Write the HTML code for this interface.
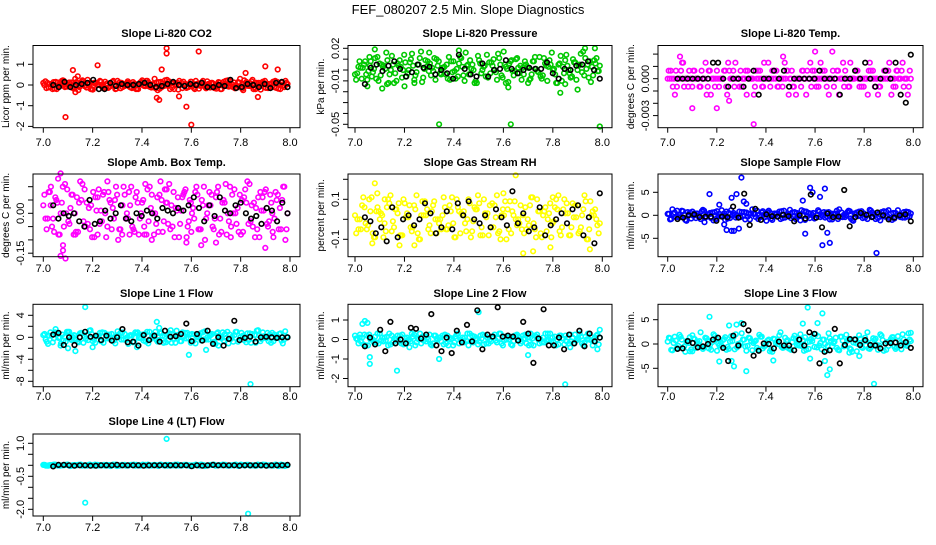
<!DOCTYPE html>
<html><head><meta charset="utf-8"><style>
body{margin:0;background:#fff;}
svg text{font-family:"Liberation Sans",Arial,sans-serif;fill:#000;}
</style></head><body>
<svg id="c" width="936" height="540" xmlns="http://www.w3.org/2000/svg">
<text x="468" y="14" font-size="13" text-anchor="middle">FEF_080207  2.5 Min. Slope Diagnostics</text>
</svg>
<script>
// ---- data (y values; band & black series evenly spaced over time 7.0-7.99) ----
const co2Band=[0.1,-0.15,0.05,-0.2,0.15,-0.05,0.2,-0.1,0.0,0.12,-0.18,0.08,-0.02,0.18,-0.12,0.04,-0.22,0.1,0.02,-0.08,0.16,-0.14,0.06,-0.04,0.2,-0.16,0.0,0.1,-0.1,0.14,-0.2,0.05,0.22,-0.06,0.12,-0.12,0.3,-0.25,0.15,-0.05,0.25,-0.2,0.1,0.0,0.2,-0.15,0.05,-0.1,0.15,-0.2,0.0,0.1,-0.05,0.18,-0.12,0.06,-0.18,0.12,-0.02,0.2,-0.08,0.04,-0.16,0.14,-0.1,0.22,-0.04,0.08,-0.2,0.1,0.0,0.16,-0.14,0.06,-0.06,0.2,-0.18,0.12,-0.1,0.05];
const co2OutX=[7.09,7.12,7.14,7.22,7.5,7.5,7.48,7.46,7.47,7.58,7.63,7.6,7.82,7.9,7.95,7.87,7.13,7.55];
const co2OutY=[-1.55,0.72,0.42,0.95,1.78,1.52,0.75,-0.62,-0.72,-1.05,1.62,-1.92,0.58,0.9,0.75,-0.58,-0.35,-0.55];
const co2Black=[0.0,-0.1,0.15,-0.1,0.0,0.05,0.1,0.25,-0.2,-0.2,0.1,-0.05,0.05,0.0,0.0,0.05,0.1,0.0,-0.1,-0.05,0.05,0.15,0.0,-0.05,0.05,0.0,0.1,-0.1,-0.1,0.0,-0.05,0.25,-0.15,-0.1,0.05,0.0,-0.1,0.05,-0.15,0.1,0.15,-0.1];
const presBand=[-0.004,0.003,-0.008,0.008,-0.001,-0.006,0.011,-0.01,0.005,0.001,-0.012,0.013,-0.003,0.004,-0.007,0.007,0.0,0.015,-0.005,0.005,-0.011,0.009,-0.001,0.002,-0.009,0.008,0.002,-0.004,0.012,-0.002,-0.008,0.006,0.003,0.016,-0.004,0.005,-0.01,0.009,0.0,-0.006,0.007,0.004,-0.002,0.011,-0.007,0.003,0.006,-0.001,0.01,-0.003,0.002,0.005,-0.009,0.008,0.001,0.012,-0.005,0.004,0.009,0.0,-0.012,0.006,0.003,0.014,-0.003,0.01,-0.009,0.005,0.017,0.001,0.008,-0.005,0.011,0.004];
const presOutX=[7.05,7.08,7.11,7.13,7.2,7.3,7.34,7.42,7.61,7.62,7.63,7.7,7.83,7.85,7.9,7.93,7.97,7.99,7.06,7.24];
const presOutY=[-0.015,0.019,-0.017,-0.013,-0.015,0.016,-0.05,0.018,-0.012,-0.016,-0.05,-0.012,-0.021,-0.013,-0.018,0.02,0.02,-0.052,0.004,-0.012];
const presBlack=[-0.013,0.002,0.005,-0.001,0.004,0.008,0.001,-0.006,-0.002,0.005,0.002,0.003,-0.004,0.0,-0.003,-0.008,0.014,0.001,-0.004,-0.006,0.006,-0.006,0.0,0.001,0.009,0.001,-0.003,0.0,0.002,0.001,0.001,0.007,-0.003,-0.008,0.001,0.0,0.004,0.005,0.008,0.0,-0.008];
const L=0.00065;
const tempBand=[0,L,0,-L,0,2*L,0,L,-L,0,0,L,0,-L,-2*L,0,L,0,0,-L,L,0,2*L,0,-L,0,L,0,-2*L,0,L,-L,0,0,L,0,-L,0,2*L,L,0,-L,0,0,L,-2*L,0,L,0,-L,0,L,0,0,-L,L,0,2*L,0,-L,0,L,0,-L,0,-2*L,L,0,0,-L,0,L,2*L,0,-L,0,L,0,-2*L,0];
const tempOutX=[7.35,7.6,7.67,7.1,7.2,7.05,7.47,7.25];
const tempOutY=[-0.0037,0.0022,0.0022,-0.0024,-0.0024,0.0018,0.0018,-0.0018];
const tempBlack=[0,0,0,0,0,0,0,2*L,2*L,0,-L,0,0,-L,0,L,-2*L,0,0,L,0,L,-L,0,0,0,0,0,L,0,0,0,-2*L,0,0,L,0,2*L,0,-L,0,L,0,2*L,-2*L,-3*L,3*L];
const ambBand=[0.03,-0.06,0.08,-0.02,0.05,-0.08,0.1,0.0,-0.04,0.07,-0.07,0.04,0.11,-0.05,0.02,-0.09,0.06,0.09,-0.03,0.0,0.08,-0.06,0.05,-0.1,0.03,0.07,-0.02,0.1,-0.07,0.04,0.0,-0.05,0.09,0.02,-0.08,0.06,0.12,-0.03,0.04,-0.06,0.08,0.01,-0.04,0.07,-0.09,0.05,0.02,0.1,-0.06,0.03,-0.02,0.08,-0.05,0.06,-0.08,0.04,0.11,-0.03,0.07,0.0,-0.07,0.05,0.09,-0.04,0.03,-0.09,0.06,0.01,0.08,-0.05,0.04,-0.02,0.07,-0.06,0.1,0.0];
const ambOutX=[7.06,7.07,7.08,7.09,7.07,7.08,7.13,7.22,7.26,7.32,7.35,7.41,7.44,7.58,7.6,7.64,7.7,7.76,7.9,7.93,7.5,7.03];
const ambOutY=[0.13,0.15,-0.12,-0.17,-0.16,-0.14,-0.08,-0.08,0.12,-0.08,-0.08,-0.08,-0.1,-0.11,-0.07,-0.12,-0.11,-0.09,-0.13,-0.07,0.09,0.03];
const ambBlack=[0.03,-0.02,0.0,-0.01,0.0,-0.03,-0.05,0.05,-0.04,-0.03,0.01,-0.02,0.0,0.03,-0.02,-0.03,0.0,-0.01,0.01,0.0,-0.02,0.02,0.01,0.0,0.02,0.01,0.03,0.06,0.02,-0.03,0.03,-0.01,0.06,0.01,0.0,0.03,0.04,0.0,-0.02,-0.01,-0.04,0.02,0.01,-0.03,0.04,0.0];
const rhBand=[0.02,-0.05,0.07,-0.02,0.1,-0.07,0.04,0.0,-0.09,0.06,0.12,-0.04,0.03,-0.08,0.08,0.01,-0.06,0.05,-0.1,0.09,0.02,-0.03,0.07,-0.07,0.0,0.11,-0.05,0.04,-0.09,0.06,0.03,-0.02,0.1,-0.06,0.05,0.08,-0.08,0.01,0.07,-0.04,0.12,-0.1,0.02,0.05,-0.07,0.09,0.0,-0.05,0.06,-0.03,0.11,-0.09,0.04,0.02,-0.06,0.08,-0.01,0.05,-0.08,0.1,0.03,-0.04,0.07,-0.07,0.02,0.09,-0.05,0.04,0.0,-0.02];
const rhOutX=[7.08,7.09,7.07,7.18,7.24,7.65,7.68,7.72,7.79,7.8,7.95,7.6,7.12];
const rhOutY=[0.18,0.13,-0.12,-0.13,-0.13,0.22,-0.17,-0.16,-0.14,0.11,-0.15,0.13,0.1];
const rhBlack=[0.01,-0.01,-0.07,-0.04,-0.11,0.06,-0.09,0.0,0.02,-0.03,0.0,0.08,0.03,-0.07,-0.04,0.04,-0.05,0.08,0.02,0.09,0.0,-0.02,0.02,-0.04,0.05,0.01,-0.03,0.14,-0.02,0.03,-0.06,-0.04,0.06,-0.08,-0.03,0.0,0.03,-0.02,0.05,0.07,-0.08,0.01,-0.12,0.13];
const sfBand=[0.3,-0.8,0.6,-0.4,1.0,-1.0,0.2,0.8,-0.6,0.0,1.2,-0.3,0.5,-1.1,0.9,-0.2,0.4,-0.7,1.1,0.1,-0.5,0.7,-0.9,0.3,1.3,-0.4,0.0,0.9,-1.2,0.6,-0.1,0.4,-0.8,1.0,0.2,-0.6,0.7,-0.3,1.1,-1.0,0.5,0.0,-0.5,0.8,-0.2,0.6,-0.9,0.3,1.0,-0.4,0.1,0.7,-0.7,0.4,-0.2,0.9,-0.5,0.2,0.6,-0.8,0.3,-0.1,0.8,-0.6,0.5,0.0,-0.4,0.7,-0.3,0.4];
const sfOutX=[7.17,7.23,7.24,7.26,7.26,7.28,7.3,7.31,7.29,7.32,7.15,7.58,7.59,7.56,7.55,7.64,7.65,7.66,7.63,7.62,7.85,7.21,7.27];
const sfOutY=[4.6,-2.0,-3.2,3.8,-3.4,4.6,8.2,3.0,-2.9,2.5,-1.5,6.0,5.0,-4.0,3.2,5.8,-3.8,-6.0,-6.5,4.0,-8.2,2.3,-3.4];
const sfBlack=[-0.8,-0.5,0.0,0.2,-0.4,-0.3,-0.3,-1.2,-0.3,-0.4,1.9,-0.5,4.7,-2.1,1.4,-1.0,0.2,-0.2,-0.3,0.1,-0.2,-1.3,0.0,-0.7,4.5,-0.5,-2.6,0.4,-0.4,-0.3,5.5,-2.4,-0.4,0.5,0.1,-0.4,0.6,0.0,-0.9,-0.5,0.0,0.2,-1.3];
const l1Band=[0.4,-0.8,0.9,-0.2,0.6,-1.1,0.1,1.0,-0.5,0.3,-0.9,0.7,-0.3,1.2,-0.7,0.2,0.8,-1.0,0.5,0.0,-0.6,1.1,-0.4,0.6,-1.2,0.3,0.9,-0.1,0.5,-0.8,1.0,0.0,-0.5,0.7,-1.0,0.4,1.3,-0.3,0.2,-0.7,0.8,-0.2,0.6,-1.1,0.1,0.9,-0.4,0.3,-0.9,0.7,0.0,-0.6,1.0,-0.3,0.4,-0.8,0.8,0.1,-0.5,0.6,-1.0,0.3,0.9,-0.2,0.5,-0.7,0.2,0.7,-0.4,0.0];
const l1OutX=[7.17,7.07,7.05,7.13,7.2,7.1,7.38,7.47,7.46,7.59,7.52,7.71,7.84,7.66];
const l1OutY=[5.5,-1.5,1.5,-2.5,-1.8,-2.0,-1.8,1.7,2.8,-3.2,-1.0,-1.5,-8.5,-2.3];
const l1Black=[0.5,0.8,-1.4,0.0,-1.4,0.0,1.0,0.1,0.3,-0.5,0.3,-0.6,0.0,1.5,-0.9,-0.8,-1.5,0.4,-0.5,0.3,-0.8,1.2,0.1,0.2,0.6,2.5,-0.7,0.6,-0.6,1.2,-1.2,0.0,-1.5,-0.3,3.0,-0.5,-0.1,0.1,-0.8,0.0,0.1,0.0,-0.1,0.0,0.0];
const l2Band=[0.2,-0.2,0.1,-0.3,0.25,0.0,-0.15,0.3,-0.1,0.15,-0.25,0.05,0.2,-0.2,0.1,-0.05,0.3,-0.3,0.0,0.15,-0.1,0.25,-0.2,0.05,0.1,-0.25,0.2,0.0,-0.15,0.3,-0.05,0.1,-0.3,0.2,0.05,-0.1,0.25,-0.2,0.0,0.15,-0.15,0.3,-0.05,0.1,-0.25,0.2,0.0,-0.1,0.25,-0.3,0.05,0.15,-0.2,0.1,-0.05,0.3,-0.15,0.0,0.2,-0.25,0.1,-0.1,0.25,0.05,-0.2,0.15,0.0,-0.3,0.2,0.1];
const l2OutX=[7.03,7.04,7.05,7.06,7.06,7.02,7.17,7.22,7.34,7.5,7.7,7.71,7.85,7.87,7.78,7.99,7.98];
const l2OutY=[0.8,0.95,0.85,-0.9,-1.25,0.25,-1.6,-0.4,-1.0,1.4,-0.8,0.3,-2.3,-0.4,0.0,0.5,-0.5];
const l2Black=[-0.35,0.1,-0.25,0.5,-0.6,0.9,-0.2,0.0,-0.2,0.6,0.55,0.05,0.25,1.3,-0.3,-0.6,0.1,-0.7,0.45,-0.15,0.75,-0.1,1.5,-0.5,0.25,0.15,1.65,0.15,0.2,0.15,-0.05,0.9,0.3,-1.2,0.05,1.55,-0.3,-0.3,0.1,-0.5,0.25,-0.2,0.45,-0.35,0.3,-0.1,0.1];
const l3Band=[0.5,-1.2,1.5,-0.4,0.9,-1.6,0.2,1.8,-0.8,0.6,-1.0,1.2,-0.2,2.0,-1.4,0.4,1.0,-0.6,1.6,-1.1,0.0,2.2,-0.5,1.3,-1.3,0.7,1.9,-0.9,0.3,-1.5,1.1,0.5,2.4,-0.7,0.8,-1.2,1.7,0.1,-0.4,1.4,-1.0,0.6,2.0,-0.3,0.9,-1.4,1.2,0.2,-0.8,1.5,-0.5,0.7,-1.1,1.0,0.0,-0.6,1.3,-0.9,0.4,1.1,-0.3,0.8,-1.2,0.5,1.4,-0.7,0.2,0.9,-0.4,0.6];
const l3OutX=[7.1,7.17,7.21,7.25,7.27,7.26,7.28,7.3,7.32,7.09,7.55,7.58,7.61,7.57,7.63,7.66,7.65,7.64,7.43,7.84,7.78,7.74,7.99];
const l3OutY=[-1.5,5.6,-3.6,3.8,-4.6,-3.5,4.0,4.3,-5.6,1.4,4.2,-3.0,4.3,7.5,6.3,-5.2,-6.4,-3.5,-3.4,-8.2,-2.5,-1.8,2.3];
const l3Black=[-1.0,-0.9,0.6,0.2,-0.7,-0.5,0.0,0.9,1.3,-0.8,-3.5,1.7,-0.3,4.1,2.8,-2.4,-1.4,0.1,0.0,-0.9,0.5,-0.3,-0.3,-1.3,0.9,-0.3,2.4,2.1,-4.0,-1.6,-1.3,3.1,-4.0,-0.2,1.0,0.9,-0.2,0.8,-0.2,-0.3,-0.9,0.1,0.2,0.3,-0.3,0.4,-0.8];
const l4Band=[0.02,-0.02,0.01,0.03,-0.01,0.0,0.02,-0.03,0.01,0.02,-0.02,0.0,0.03,-0.01,0.02,0.0,-0.02,0.01,0.03,-0.03,0.0,0.02,-0.01,0.01,0.02,-0.02,0.0,0.03,-0.01,0.01,0.02,0.0,-0.02,0.01,0.03,-0.01,0.0,0.02,-0.03,0.01,0.0,0.02,-0.02,0.01,0.03,-0.01,0.0,0.02,-0.02,0.01,0.0,0.03,-0.01,0.02,0.0,-0.02,0.01,0.02,-0.01,0.0,0.03,-0.02,0.01,0.0];
const l4OutX=[7.5,7.17,7.83,7.01,7.02];
const l4OutY=[1.2,-1.7,-2.2,0.0,-0.02];
const l4Black=[-0.05,0.02,0.02,0.0,-0.02,0.0,0.0,-0.02,-0.02,0.0,0.0,0.0,0.02,0.0,0.0,0.0,0.0,-0.02,0.0,0.0,0.0,0.0,0.0,0.0,0.0,0.0,-0.04,0.0,-0.02,0.0,0.02,0.0,0.0,0.0,0.0,-0.02,0.0,0.0,0.0,0.0,-0.02,0.0,0.0,0.0,0.02];
const xTickLabels=["7.0","7.2","7.4","7.6","7.8","8.0"];
const xTickValues=[7.0,7.2,7.4,7.6,7.8,8.0];

// ---- layout ----
const cols=[{x0:33,x1:300,t0:43.3,t1:290},{x0:348,x1:612,t0:355,t1:602.3},{x0:658,x1:923,t0:667.7,t1:913.3}];
const rows=[{y0:45.5,y1:127.7,title:37,xl:146},{y0:174,y1:256.7,title:166,xl:272},{y0:304.3,y1:386.7,title:297,xl:400},{y0:434,y1:516,title:425,xl:531}];
const NS='http://www.w3.org/2000/svg';
const svg=document.getElementById('c');
function mk(tag,attrs,parent){const e=document.createElementNS(NS,tag);for(const k in attrs)e.setAttribute(k,attrs[k]);(parent||svg).appendChild(e);return e;}

function panel(p){
  const c=cols[p.col], r=rows[p.row];
  const g=mk('g',{});
  
  
  const xs=v=>c.t0+(v-7.0)*(c.t1-c.t0);
  const ys=v=>p.p1+(v-p.v1)*(p.p2-p.p1)/(p.v2-p.v1);
  const t=mk('text',{x:(c.x0+c.x1)/2,y:r.title,'font-size':11,'font-weight':'bold','text-anchor':'middle'},g);
  t.textContent=p.title;
  
  
  const pts=mk('g',{fill:'none','stroke-width':1.6},g);
  
  
  function dot(x,y,col){
    const cy=ys(y); if(cy<r.y0-3||cy>r.y1+3) return;
    const e=mk('circle',{cx:xs(x).toFixed(1),cy:cy.toFixed(1),r:2.3,stroke:col},pts);
    
    
  }
  const n=p.band.length;
  const k1=Math.floor(n/3), k2=Math.floor(2*n/3);
  p.band.forEach((v,i)=>dot(7.0+0.99*i/(n-1),v,p.color));
  p.band.forEach((v,i)=>{if(i<n-1)dot(7.0+0.99*(i+0.33)/(n-1),p.band[(i+k1)%n],p.color);});
  p.band.forEach((v,i)=>{if(i<n-1)dot(7.0+0.99*(i+0.67)/(n-1),p.band[(i+k2)%n],p.color);});
  p.outX.forEach((x,i)=>dot(x,p.outY[i],p.color));
  const m=p.black.length;
  p.black.forEach((v,i)=>dot(7.04+0.95*i/(m-1),v,'#000'));
  const b=mk('rect',{x:c.x0,y:r.y0,width:c.x1-c.x0,height:r.y1-r.y0,fill:'none',stroke:'#000','stroke-width':1},g);
  
  
  const xa=mk('g',{},g);
  
  
  xTickValues.forEach((v,i)=>{
    const x=xs(v);
    mk('line',{x1:x,x2:x,y1:r.y1,y2:r.y1+5,stroke:'#000'},xa);
    const tl=mk('text',{x:x,y:r.xl,'font-size':11,'text-anchor':'middle'},xa);
    tl.textContent=xTickLabels[i];
    
    
  });
  const ya=mk('g',{},g);
  
  
  p.yTicks.forEach(v=>{const y=ys(v);mk('line',{x1:c.x0-5,x2:c.x0,y1:y,y2:y,stroke:'#000'},ya);});
  p.yLabels.forEach((s,i)=>{
    const y=ys(p.yLabelVals[i]);
    const tl=mk('text',{x:c.x0-9,y:y,'font-size':11,'text-anchor':'middle',transform:`rotate(-90 ${c.x0-9} ${y})`},ya);
    tl.textContent=s;
    
    
  });
  const yt=mk('text',{x:c.x0-24,y:(r.y0+r.y1)/2,'font-size':10,'text-anchor':'middle',transform:`rotate(-90 ${c.x0-24} ${(r.y0+r.y1)/2})`},g);
  yt.textContent=p.ytitle;
  
  
}

panel({name:'panel-co2',col:0,row:0,title:'Slope Li-820 CO2',ytitle:'Licor ppm per min.',color:'#ff0000',band:co2Band,outX:co2OutX,outY:co2OutY,black:co2Black,v1:0,p1:85,v2:1,p2:64.3,yTicks:[-2,-1,0,1],yLabels:['-2','-1','0','1'],yLabelVals:[-2,-1,0,1]});
panel({name:'panel-pressure',col:1,row:0,title:'Slope Li-820 Pressure',ytitle:'kPa per min.',color:'#00c800',band:presBand,outX:presOutX,outY:presOutY,black:presBlack,v1:0.02,p1:48.3,v2:-0.05,p2:124.3,yTicks:[0.02,0.01,0,-0.01,-0.02,-0.03,-0.04,-0.05],yLabels:['0.02','-0.01','-0.05'],yLabelVals:[0.02,-0.01,-0.05]});
panel({name:'panel-li820-temp',col:2,row:0,title:'Slope Li-820 Temp.',ytitle:'degrees C per min.',color:'#ff00ff',band:tempBand,outX:tempOutX,outY:tempOutY,black:tempBlack,v1:0,p1:78.7,v2:0.001,p2:66.4,yTicks:[0.002,0.001,0,-0.001,-0.002,-0.003],yLabels:['0.000','-0.003'],yLabelVals:[0,-0.003]});
panel({name:'panel-amb-box-temp',col:0,row:1,title:'Slope Amb. Box Temp.',ytitle:'degrees C per min.',color:'#ff00ff',band:ambBand,outX:ambOutX,outY:ambOutY,black:ambBlack,v1:0,p1:213.3,v2:0.05,p2:200,yTicks:[0.1,0.05,0,-0.05,-0.1,-0.15],yLabels:['0.00','-0.15'],yLabelVals:[0,-0.15]});
panel({name:'panel-gas-stream-rh',col:1,row:1,title:'Slope Gas Stream RH',ytitle:'percent per min.',color:'#ffff00',band:rhBand,outX:rhOutX,outY:rhOutY,black:rhBlack,v1:0,p1:219.3,v2:0.1,p2:199.3,yTicks:[0.2,0.1,0,-0.1],yLabels:['0.1','-0.1'],yLabelVals:[0.1,-0.1]});
panel({name:'panel-sample-flow',col:2,row:1,title:'Slope Sample Flow',ytitle:'ml/min per min.',color:'#0000ff',band:sfBand,outX:sfOutX,outY:sfOutY,black:sfBlack,v1:0,p1:215.3,v2:5,p2:192.3,yTicks:[5,0,-5],yLabels:['5','0','-5'],yLabelVals:[5,0,-5]});
panel({name:'panel-line1-flow',col:0,row:2,title:'Slope Line 1 Flow',ytitle:'ml/min per min.',color:'#00ffff',band:l1Band,outX:l1OutX,outY:l1OutY,black:l1Black,v1:0,p1:337.3,v2:4,p2:315.3,yTicks:[4,2,0,-2,-4,-6,-8],yLabels:['4','0','-4','-8'],yLabelVals:[4,0,-4,-8]});
panel({name:'panel-line2-flow',col:1,row:2,title:'Slope Line 2 Flow',ytitle:'ml/min per min.',color:'#00ffff',band:l2Band,outX:l2OutX,outY:l2OutY,black:l2Black,v1:0,p1:339.5,v2:1,p2:320,yTicks:[1,0,-1,-2],yLabels:['1','0','-1','-2'],yLabelVals:[1,0,-1,-2]});
panel({name:'panel-line3-flow',col:2,row:2,title:'Slope Line 3 Flow',ytitle:'ml/min per min.',color:'#00ffff',band:l3Band,outX:l3OutX,outY:l3OutY,black:l3Black,v1:0,p1:344,v2:5,p2:319.7,yTicks:[5,0,-5],yLabels:['5','0','-5'],yLabelVals:[5,0,-5]});
panel({name:'panel-line4-flow',col:0,row:3,title:'Slope Line 4 (LT) Flow',ytitle:'ml/min per min.',color:'#00ffff',band:l4Band,outX:l4OutX,outY:l4OutY,black:l4Black,v1:0,p1:465.3,v2:1,p2:443.3,yTicks:[1,0.5,0,-0.5,-1,-1.5,-2],yLabels:['1.0','-0.5','-2.0'],yLabelVals:[1,-0.5,-2]});
</script>
</body></html>
